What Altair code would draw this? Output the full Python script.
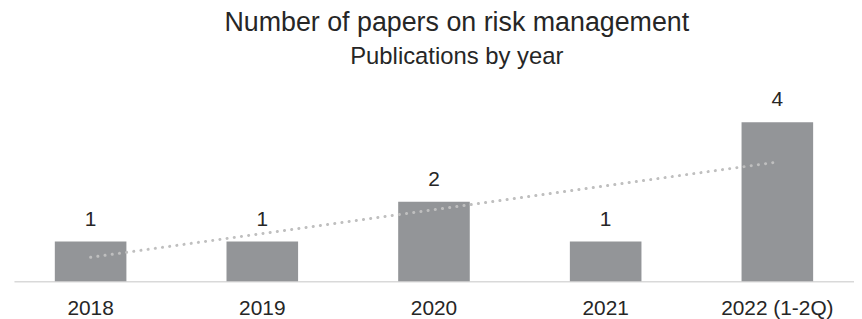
import altair as alt
import pandas as pd

years = ["2018", "2019", "2020", "2021", "2022 (1-2Q)"]
papers = [1, 1, 2, 1, 4]
idx = [0, 1, 2, 3, 4]

df = pd.DataFrame({"year": years, "papers": papers, "idx": idx})

W = 846
H = 180

base = alt.Chart(df)

xband = alt.Scale(paddingInner=0.583, paddingOuter=0.238)

bars = base.mark_bar(color="#939598").encode(
    x=alt.X("year:N", sort=years, scale=xband,
            axis=alt.Axis(title=None, labelAngle=0, labelFontSize=21, labelColor="#262626",
                          labelFont="Liberation Sans", labelPadding=17,
                          domainColor="#d9d9d9", domainWidth=1.5, ticks=False, grid=False)),
    y=alt.Y("papers:Q", scale=alt.Scale(domain=[0, 4.5], nice=False), axis=None),
)

labels = base.mark_text(baseline="alphabetic", dy=-16, fontSize=21, color="#262626",
                        font="Liberation Sans").encode(
    x=alt.X("year:N", sort=years),
    y=alt.Y("papers:Q", axis=None),
    text="papers:Q",
)

trend = base.transform_regression("idx", "papers", extent=[0, 4]).mark_line(
    color="#bfbfbf", strokeWidth=3, strokeCap="round", strokeDash=[0.1, 7.2]
).encode(
    x=alt.X("idx:Q", scale=alt.Scale(domain=[-0.4465, 4.4465], nice=False, zero=False), axis=None),
    y=alt.Y("papers:Q", axis=None),
)

chart = alt.layer(alt.layer(bars, labels), trend).resolve_scale(x="independent").properties(
    width=W, height=H,
    view=alt.ViewConfig(stroke="transparent"),
    title=alt.TitleParams(
        "Number of papers on risk management",
        subtitle="Publications by year",
        fontSize=27, subtitleFontSize=24, font="Liberation Sans", subtitleFont="Liberation Sans",
        fontWeight="normal", color="#262626", subtitleColor="#262626",
        anchor="middle", offset=20, subtitlePadding=8, dx=23,
    ),
).configure_view(stroke="transparent", strokeWidth=0).configure_axis(grid=False).configure(
    padding={"left": 6, "right": 0, "top": 0, "bottom": 0})

chart.save("out.html", embed_options={"renderer": "svg", "actions": False})
